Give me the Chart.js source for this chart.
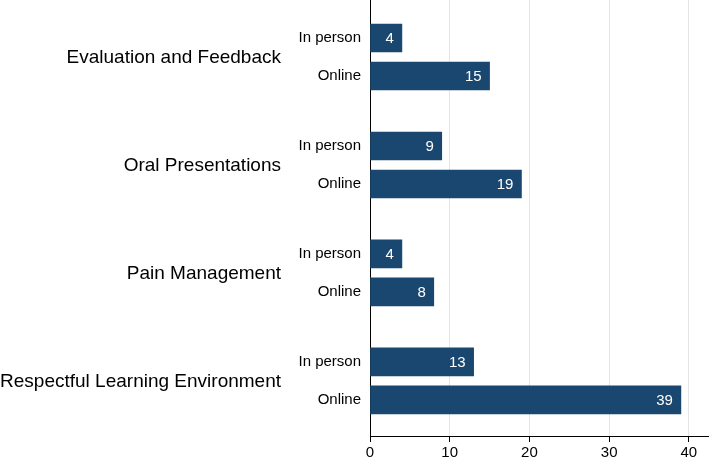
<!DOCTYPE html>
<html>
<head>
<meta charset="utf-8">
<script src="https://cdn.jsdelivr.net/npm/chart.js@4"></script>
<style>
  html, body { margin: 0; padding: 0; background: #fff; }
  #wrap { width: 709px; height: 462px; }
</style>
</head>
<body>
<div id="wrap"><canvas id="chart"></canvas></div>
<script>
// data
const groups = ['Evaluation and Feedback', 'Oral Presentations', 'Pain Management', 'Respectful Learning Environment'];
const modes = ['In person', 'Online'];
const inPerson = [4, 9, 4, 13];
const online = [15, 19, 8, 39];
const xTicks = [0, 10, 20, 30, 40];

const GROUP_STEP = 2.84; // spacing between groups on the y index scale
const FONT = '"Liberation Sans", Arial, sans-serif';

// build points: one per bar
const points = [];
const tickLabels = {};
groups.forEach((g, i) => {
    [inPerson[i], online[i]].forEach((v, k) => {
        const pos = i * GROUP_STEP + k;
        points.push({ x: v, y: pos });
        tickLabels[pos.toFixed(2)] = modes[k];
    });
});

// values inside bars + group labels on the left
const labelPlugin = {
    id: 'labels',
    afterDatasetsDraw(chart) {
        const ctx = chart.ctx;
        const meta = chart.getDatasetMeta(0);
        ctx.save();
        ctx.font = '15px ' + FONT;
        ctx.fillStyle = '#fff';
        ctx.textAlign = 'right';
        ctx.textBaseline = 'middle';
        meta.data.forEach((bar, i) => {
            ctx.fillText(String(points[i].x), bar.x - 8, bar.y + 1);
        });
        ctx.font = '19px ' + FONT;
        ctx.fillStyle = '#000';
        const ys = chart.scales.y;
        groups.forEach((g, i) => {
            const y = ys.getPixelForValue(i * GROUP_STEP + 0.5);
            ctx.fillText(g, 281, y + 1);
        });
        ctx.restore();
    }
};

new Chart(document.getElementById('chart'), {
    type: 'bar',
    data: {
        datasets: [{
            data: points,
            backgroundColor: '#1a476f',
            barThickness: 28
        }]
    },
    options: {
        indexAxis: 'y',
        responsive: true,
        maintainAspectRatio: false,
        animation: false,
        layout: { autoPadding: false, padding: { top: 0, right: 1, bottom: 0, left: 0 } },
        plugins: {
            legend: { display: false },
            tooltip: { enabled: false }
        },
        scales: {
            x: {
                type: 'linear',
                min: 0,
                max: 42.4,
                offset: false,
                afterBuildTicks: s => { s.ticks = xTicks.map(v => ({ value: v })); },
                afterFit: s => { s.height = 26; s.paddingLeft = 0; s.paddingRight = 0; },
                border: { display: true, color: '#000', width: 1 },
                grid: {
                    offset: false,
                    color: c => (c.tick && c.tick.value === 0) ? 'rgba(0,0,0,0)' : '#e4e4e4',
                    tickColor: '#000',
                    tickLength: 6,
                    drawTicks: true
                },
                ticks: {
                    color: '#000',
                    font: { family: FONT, size: 15 },
                    padding: 2,
                    maxRotation: 0
                }
            },
            y: {
                type: 'linear',
                reverse: true,
                min: -1,
                max: 10.47,
                offset: false,
                afterBuildTicks: s => {
                    s.ticks = points.map(p => ({ value: p.y }));
                },
                afterFit: s => { s.width = 370; s.paddingTop = 0; s.paddingBottom = 0; },
                border: { display: true, color: '#000', width: 1 },
                grid: { display: false, drawTicks: false, offset: false },
                ticks: {
                    color: '#000',
                    font: { family: FONT, size: 15 },
                    padding: 9,
                    callback: v => tickLabels[Number(v).toFixed(2)] || ''
                }
            }
        }
    },
    plugins: [labelPlugin]
});
</script>
</body>
</html>
